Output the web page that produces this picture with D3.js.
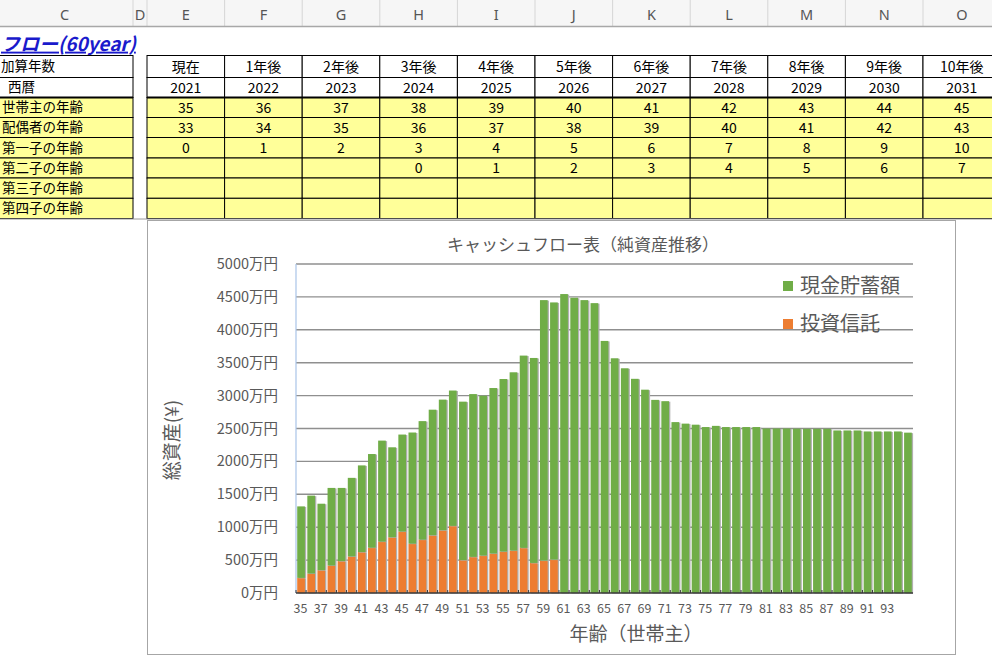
<!DOCTYPE html>
<html><head><meta charset="utf-8">
<script src="https://cdn.jsdelivr.net/npm/d3@7"></script>
<style>body{margin:0;background:#fff;overflow:hidden}svg{display:block}</style>
</head><body><svg id="c" width="992" height="661"></svg>
<script>
// ---------- spreadsheet data ----------
const columnLetters = ["C","D","E","F","G","H","I","J","K","L","M","N","O"];
const sheetTitle = "フロー(60year)";
const rowLabels = ["加算年数","西暦","世帯主の年齢","配偶者の年齢","第一子の年齢","第二子の年齢","第三子の年齢","第四子の年齢"];
const periodLabels = ["現在","1年後","2年後","3年後","4年後","5年後","6年後","7年後","8年後","9年後","10年後"];
const calendarYears = [2021,2022,2023,2024,2025,2026,2027,2028,2029,2030,2031];
const householderAges = [35,36,37,38,39,40,41,42,43,44,45];
const spouseAges = [33,34,35,36,37,38,39,40,41,42,43];
const firstChildAges = [0,1,2,3,4,5,6,7,8,9,10];
const secondChildAges = [null,null,null,0,1,2,3,4,5,6,7];
const thirdChildAges = [null,null,null,null,null,null,null,null,null,null,null];
const fourthChildAges = [null,null,null,null,null,null,null,null,null,null,null];

// ---------- chart data ----------
const chartTitle = "キャッシュフロー表（純資産推移）";
const yAxisTitle = "総資産(¥)";
const xAxisTitle = "年齢（世帯主）";
const seriesNames = ["現金貯蓄額","投資信託"];
const ageCategories = [35,36,37,38,39,40,41,42,43,44,45,46,47,48,49,50,51,52,53,54,55,56,57,58,59,60,
  61,62,63,64,65,66,67,68,69,70,71,72,73,74,75,76,77,78,79,80,81,82,83,84,85,86,87,88,89,90,91,92,93,94,95];
const cashSavings = [1086,1184,1010,1179,1112,1194,1317,1423,1535,1367,1474,1689,1801,1908,1985,2057,2408,2474,2429,2515,2622,2709,2922,3115,3958,3908,
  4543,4487,4451,4405,3831,3567,3415,3255,3090,2935,2915,2597,2574,2558,2522,2540,2522,2522,2522,2522,2500,2500,2500,2498,2496,2496,2496,2470,2470,2470,2455,2455,2455,2455,2437];
const investmentTrust = [230,296,347,418,485,556,622,689,781,847,934,750,811,878,954,1020,500,549,569,600,630,645,686,457,493,508,
  0,0,0,0,0,0,0,0,0,0,0,0,0,0,0,0,0,0,0,0,0,0,0,0,0,0,0,0,0,0,0,0,0,0,0];
const yTickValues = [0,500,1000,1500,2000,2500,3000,3500,4000,4500,5000];
const xTickLabels = [35,37,39,41,43,45,47,49,51,53,55,57,59,61,63,65,67,69,71,73,75,77,79,81,83,85,87,89,91,93];

// ---------- drawing ----------
const FONT = "'Noto Sans CJK JP','Noto Sans',sans-serif";
const svg = d3.select("#c").style("font-family", FONT);

// column geometry
const colW = 77.6;
const colEdges = [[-20,133],[133,147]];
for (let i = 0; i < 11; i++) colEdges.push([147 + i*colW, 147 + (i+1)*colW]);

// header row
svg.append("rect").attr("x",0).attr("y",0).attr("width",992).attr("height",26).attr("fill","#f6f6f6");
svg.selectAll(".hsep").data(colEdges.slice(1)).join("line")
  .attr("x1",d=>d[0]).attr("x2",d=>d[0]).attr("y1",0).attr("y2",26)
  .attr("stroke","#d6d6d6");
svg.selectAll(".hlab").data(columnLetters).join("text")
  .attr("x",(d,i)=>(Math.max(colEdges[i][0],0)+colEdges[i][1])/2 + (i===0?-2:0))
  .attr("y",15).attr("dy","0.35em").attr("text-anchor","middle")
  .attr("font-size",14.5).attr("fill","#555").attr("font-family","'Noto Sans',sans-serif").text(d=>d);
svg.append("line").attr("x1",0).attr("x2",992).attr("y1",26.5).attr("y2",26.5).attr("stroke","#a8a8a8").attr("stroke-width",1.5);

// sheet title
svg.append("text").attr("x",1).attr("y",44).attr("dy","0.35em").attr("text-anchor","start")
  .attr("font-size",19).attr("font-weight","bold").attr("font-style","italic")
  .attr("fill","#1a1acc").attr("text-decoration","underline").text(sheetTitle);

// table rows
const rowEdges = [55.5,77.5,97.5,117.5,137.5,158,178,198.3,218.5];
const rowValues = [periodLabels, calendarYears, householderAges, spouseAges, firstChildAges, secondChildAges, thirdChildAges, fourthChildAges];
const rowFill = ["#ffffff","#ffffff","#ffff99","#ffff99","#ffff99","#ffff99","#ffff99","#ffff99"];

const rows = svg.append("g");
rowLabels.forEach((lab, r) => {
  const y0 = rowEdges[r], y1 = rowEdges[r+1];
  rows.append("rect").attr("x",-2).attr("y",y0).attr("width",135).attr("height",y1-y0)
    .attr("fill",rowFill[r]).attr("stroke","#000").attr("stroke-width",1);
  rows.append("text").attr("x", r===0 ? 1 : (r===1 ? 8 : 2)).attr("y",(y0+y1)/2).attr("dy","0.36em")
    .attr("font-size",13.5).attr("fill","#000").text(lab);
  rowValues[r].forEach((v, c) => {
    const [x0, x1] = colEdges[c+2];
    rows.append("rect").attr("x",x0).attr("y",y0).attr("width",x1-x0).attr("height",y1-y0)
      .attr("fill",rowFill[r]).attr("stroke","#000").attr("stroke-width",1);
    if (v !== null) rows.append("text").attr("x",(x0+x1)/2).attr("y",(y0+y1)/2).attr("dy","0.36em")
      .attr("text-anchor","middle").attr("font-size",14).attr("fill","#000").text(v);
  });
});
svg.append("line").attr("x1",-2).attr("x2",133).attr("y1",97.5).attr("y2",97.5).attr("stroke","#000").attr("stroke-width",2);
svg.append("line").attr("x1",147).attr("x2",992).attr("y1",97.5).attr("y2",97.5).attr("stroke","#000").attr("stroke-width",2);
svg.append("line").attr("x1",0).attr("x2",992).attr("y1",219).attr("y2",219).attr("stroke","#9a9a9a").attr("stroke-width",1);

// chart box
const chart = svg.append("g");
chart.append("rect").attr("x",147.5).attr("y",220.5).attr("width",808).attr("height",434)
  .attr("fill","#fff").attr("stroke","#a6a6a6").attr("stroke-width",1);

const plot = {left:296, right:913, top:264, bottom:593};
const x = d3.scaleBand().domain(ageCategories).range([plot.left, plot.right]).paddingInner(0.24).paddingOuter(0.12);
const y = d3.scaleLinear().domain([0,5000]).range([plot.bottom, plot.top]);

chart.append("g").selectAll("line").data(yTickValues.filter(v=>v>0)).join("line")
  .attr("x1",plot.left).attr("x2",plot.right).attr("y1",d=>y(d)).attr("y2",d=>y(d))
  .attr("stroke","#8f8f8f").attr("stroke-width",1.4);

chart.append("g").selectAll("text").data(yTickValues).join("text")
  .attr("x",278).attr("y",d=>y(d)).attr("dy","0.35em").attr("text-anchor","end")
  .attr("font-size",14.5).attr("fill","#595959").text(d=>d+"万円");

const table = ageCategories.map((a,i)=>({age:a, invest:investmentTrust[i], cash:cashSavings[i]}));
const stack = d3.stack().keys(["invest","cash"])(table);
const colors = {invest:"#ed7d31", cash:"#70ad47"};
const bw = x.bandwidth();
stack.forEach(layer => {
  const g = chart.append("g");
  const segs = layer.filter(d => d[1] - d[0] > 0);
  g.selectAll(".sh").data(segs).join("rect")
    .attr("x",d=>x(d.data.age)+1.3).attr("y",d=>y(d[1])+0.5).attr("width",bw).attr("height",d=>y(d[0])-y(d[1]))
    .attr("fill","#b0b0b0");
  g.selectAll(".br").data(segs).join("rect")
    .attr("x",d=>x(d.data.age)).attr("y",d=>y(d[1])).attr("width",bw).attr("height",d=>y(d[0])-y(d[1]))
    .attr("fill",colors[layer.key]);
});

chart.append("line").attr("x1",plot.left).attr("x2",plot.left).attr("y1",plot.top).attr("y2",plot.bottom)
  .attr("stroke","#a9c4e8").attr("stroke-width",1.2);
chart.append("line").attr("x1",plot.left).attr("x2",plot.right).attr("y1",plot.bottom).attr("y2",plot.bottom)
  .attr("stroke","#3a3a3a").attr("stroke-width",1.6);
chart.append("g").selectAll("line").data(ageCategories).join("line")
  .attr("x1",d=>x(d)-x.step()*x.paddingInner()/2).attr("x2",d=>x(d)-x.step()*x.paddingInner()/2)
  .attr("y1",plot.bottom).attr("y2",plot.bottom-3).attr("stroke","#3a3a3a").attr("stroke-width",1);

chart.append("g").selectAll("text").data(xTickLabels).join("text")
  .attr("x",d=>x(d)+bw/2 - 0.5).attr("y",609).attr("dy","0.35em").attr("text-anchor","middle")
  .attr("font-size",12.5).attr("fill","#595959").text(d=>d);

chart.append("text").attr("x",583).attr("y",245).attr("dy","0.35em").attr("text-anchor","middle")
  .attr("font-size",17).attr("fill","#595959").text(chartTitle);
chart.append("text").attr("transform","translate(172,440) rotate(-90)").attr("dy","0.35em").attr("text-anchor","middle")
  .attr("font-size",19).attr("fill","#595959").text(yAxisTitle);
chart.append("text").attr("x",636).attr("y",634).attr("dy","0.35em").attr("text-anchor","middle")
  .attr("font-size",19).attr("fill","#595959").text(xAxisTitle);

const legendItems = [{name:seriesNames[0], color:colors.cash, y:286},{name:seriesNames[1], color:colors.invest, y:324}];
const lg = chart.append("g").selectAll("g").data(legendItems).join("g");
lg.append("rect").attr("x",783).attr("y",d=>d.y-5).attr("width",10).attr("height",10).attr("fill",d=>d.color);
lg.append("text").attr("x",800).attr("y",d=>d.y).attr("dy","0.36em").attr("font-size",20).attr("fill","#595959").text(d=>d.name);
</script>
</body></html>
